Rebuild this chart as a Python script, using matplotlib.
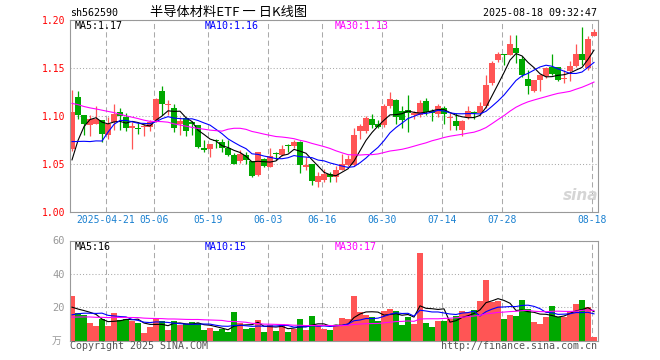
import numpy as np
import pandas as pd
import matplotlib
matplotlib.use("Agg")
import matplotlib.pyplot as plt

plt.rcParams["font.family"] = ["DejaVu Sans Mono", "Noto Sans CJK SC"]

symbol = "sh562590"
title = "半导体材料ETF 一 日K线图"
stamp = "2025-08-18 09:32:47"

# daily candles, 2025-04-11 .. 2025-08-18
opens = [1.066, 1.120, 1.101, 1.091, 1.092, 1.096, 1.080, 1.094, 1.104, 1.099,
         1.088, 1.087, 1.089, 1.089, 1.096, 1.126, 1.111, 1.108, 1.092, 1.098,
         1.094, 1.091, 1.067, 1.066, 1.075, 1.073, 1.067, 1.059, 1.053, 1.059,
         1.053, 1.039, 1.055, 1.047, 1.061, 1.059, 1.070, 1.069, 1.073, 1.047,
         1.050, 1.031, 1.033, 1.040, 1.036, 1.044, 1.049, 1.049, 1.084, 1.084,
         1.097, 1.092, 1.091, 1.110, 1.117, 1.105, 1.106, 1.101, 1.101, 1.116,
         1.105, 1.102, 1.108, 1.098, 1.095, 1.085, 1.099, 1.104, 1.103, 1.110,
         1.134, 1.158, 1.165, 1.164, 1.171, 1.159, 1.139, 1.126, 1.137, 1.142,
         1.151, 1.151, 1.139, 1.147, 1.152, 1.165, 1.150, 1.183]
highs = [1.127, 1.126, 1.101, 1.101, 1.110, 1.096, 1.099, 1.113, 1.108, 1.103,
         1.094, 1.093, 1.092, 1.096, 1.119, 1.131, 1.117, 1.112, 1.099, 1.099,
         1.095, 1.091, 1.075, 1.071, 1.076, 1.076, 1.075, 1.061, 1.065, 1.063,
         1.053, 1.063, 1.056, 1.067, 1.063, 1.070, 1.071, 1.075, 1.074, 1.057,
         1.050, 1.042, 1.045, 1.042, 1.048, 1.060, 1.059, 1.087, 1.092, 1.100,
         1.102, 1.096, 1.112, 1.125, 1.118, 1.110, 1.122, 1.105, 1.117, 1.119,
         1.107, 1.112, 1.110, 1.103, 1.103, 1.096, 1.110, 1.105, 1.115, 1.143,
         1.157, 1.167, 1.165, 1.184, 1.184, 1.162, 1.148, 1.138, 1.144, 1.151,
         1.165, 1.151, 1.148, 1.157, 1.175, 1.193, 1.183, 1.191]
lows = [1.064, 1.097, 1.080, 1.079, 1.092, 1.073, 1.076, 1.085, 1.085, 1.084,
        1.066, 1.081, 1.079, 1.084, 1.094, 1.101, 1.101, 1.083, 1.080, 1.079,
        1.080, 1.067, 1.063, 1.057, 1.067, 1.063, 1.058, 1.050, 1.051, 1.050,
        1.036, 1.038, 1.047, 1.047, 1.054, 1.058, 1.063, 1.067, 1.041, 1.044,
        1.028, 1.026, 1.031, 1.031, 1.031, 1.044, 1.048, 1.048, 1.076, 1.082,
        1.087, 1.087, 1.089, 1.108, 1.092, 1.087, 1.083, 1.097, 1.099, 1.101,
        1.095, 1.099, 1.092, 1.085, 1.085, 1.079, 1.097, 1.097, 1.101, 1.108,
        1.132, 1.156, 1.153, 1.164, 1.155, 1.141, 1.123, 1.125, 1.126, 1.140,
        1.143, 1.136, 1.134, 1.136, 1.151, 1.153, 1.148, 1.183]
closes = [1.104, 1.101, 1.092, 1.097, 1.097, 1.081, 1.092, 1.102, 1.100, 1.088,
          1.090, 1.086, 1.090, 1.094, 1.118, 1.112, 1.113, 1.087, 1.095, 1.084,
          1.092, 1.068, 1.065, 1.071, 1.074, 1.067, 1.059, 1.050, 1.060, 1.054,
          1.038, 1.062, 1.048, 1.058, 1.060, 1.066, 1.069, 1.073, 1.049, 1.049,
          1.032, 1.037, 1.040, 1.036, 1.044, 1.050, 1.055, 1.080, 1.090, 1.098,
          1.091, 1.089, 1.110, 1.118, 1.099, 1.096, 1.103, 1.103, 1.114, 1.104,
          1.103, 1.110, 1.102, 1.099, 1.090, 1.095, 1.105, 1.103, 1.110, 1.132,
          1.155, 1.165, 1.164, 1.175, 1.166, 1.143, 1.131, 1.137, 1.143, 1.150,
          1.144, 1.138, 1.140, 1.152, 1.165, 1.158, 1.180, 1.188]
volumes = [27, 16.4, 15.4, 10.8, 8.8, 12.8, 8.8, 16.4, 12.4, 12.8,
           12, 10.4, 4.8, 8.4, 12.8, 12, 6.4, 12, 9.4, 10,
           11.2, 10.4, 6.4, 7.8, 5.8, 6.8, 5.4, 17.2, 10.4, 7,
           7.6, 12.4, 5.2, 9.4, 5.8, 9.8, 5.2, 7.2, 12.8, 6.4,
           14.8, 8.8, 7, 6.4, 9.4, 13.4, 12.8, 26.8, 17.2, 15.4,
           14, 11.8, 17.8, 19, 17.8, 9.4, 14, 10, 52.8, 10.4,
           8.2, 11.8, 11.8, 12.8, 14.8, 17.8, 17.2, 18.4, 23.8, 36.4,
           23.2, 23.8, 13, 15.4, 14.8, 24.4, 18.8, 11.2, 10, 14.2,
           20.8, 14.2, 14.2, 17.8, 22, 24.4, 20.2, 2.2]

# estimated sessions before the window, only used so the averages start where the chart's do
prior_closes = [1.14, 1.15, 1.14, 1.13, 1.12, 1.13, 1.14, 1.15, 1.14, 1.13,
                1.13, 1.14, 1.13, 1.12, 1.12, 1.13, 1.14, 1.13, 1.12, 1.13,
                1.10, 1.09, 1.10, 1.09, 1.082, 1.00, 1.02, 1.06, 1.0875]
prior_volumes = [14, 13, 12, 15, 13, 14, 12, 13, 14, 13,
                 12, 14, 13, 15, 14, 13, 12, 13, 14, 13,
                 10, 12, 11, 10, 11, 22, 20, 16, 15]

date_ticks = {6: "2025-04-21", 14: "05-06", 23: "05-19", 33: "06-03", 42: "06-16",
              52: "06-30", 62: "07-14", 72: "07-28", 87: "08-18"}
price_ticks = [1.00, 1.05, 1.10, 1.15, 1.20]
vol_ticks = [20, 40, 60]
ma_periods = [5, 10, 30]
ma_labels = ["MA5:1.17", "MA10:1.16", "MA30:1.13"]
vol_ma_labels = ["MA5:16", "MA10:15", "MA30:17"]

RED = "#ff5555"
GREEN = "#00a800"
MA_COLORS = ["black", "#0000ff", "#ff00ff"]
FRAME = "#999999"
GRID = "#aaaaaa"
DATE_BLUE = "#1a80d0"

W, H = 660, 360


def moving_avg(prior, values, n):
    s = pd.Series(list(prior) + list(values), dtype=float)
    return s.rolling(n).mean().iloc[len(prior):].to_numpy()


fig = plt.figure(figsize=(W / 100, H / 100), dpi=100)


def px_axes(x0, y0, x1, y1):
    return fig.add_axes([x0 / W, 1 - y1 / H, (x1 - x0) / W, (y1 - y0) / H])


def px_text(x, y, s, **kw):
    fig.text(x / W, 1 - y / H, s, **kw)


o = np.array(opens)
h = np.array(highs)
l = np.array(lows)
c = np.array(closes)
v = np.array(volumes)
n = len(c)
x = np.arange(n)
colors = np.where(c >= o, RED, GREEN)

grid_x = [i - 1 / 3 for i in date_ticks]

ax = px_axes(70, 20, 598, 212)
axv = px_axes(70, 240.5, 598, 340.5)

for a in (ax, axv):
    a.set_xlim(-1 / 3, n - 1 / 3)
    a.set_axisbelow(True)
    for sp in a.spines.values():
        sp.set_color(FRAME)
        sp.set_linewidth(0.8)
    a.set_xticks(grid_x)
    a.grid(axis="x", color=GRID, lw=0.75, linestyle=(0, (5, 3)))
    a.grid(axis="y", color=GRID, lw=0.75, linestyle=(0, (1, 2)))
    a.tick_params(length=0)

# price panel
ax.vlines(x, l, h, colors=colors, lw=0.9)
body = np.maximum(np.abs(c - o), 0.0011)
ax.bar(x, body, bottom=np.minimum(o, c), width=0.86, color=colors, lw=0)
for p, col in zip(ma_periods, MA_COLORS):
    ax.plot(x, moving_avg(prior_closes, c, p), color=col, lw=0.8)
ax.set_ylim(price_ticks[0], price_ticks[-1])
ax.set_yticks(price_ticks)
ax.set_yticklabels([f"{t:.2f}" for t in price_ticks], color="red", fontsize=7)
ax.set_xticklabels(list(date_ticks.values()), color=DATE_BLUE, fontsize=7)
ax.tick_params(axis="y", pad=3.5)
ax.tick_params(axis="x", pad=2)

# volume panel
axv.bar(x, v, width=0.86, color=colors, lw=0)
for p, col in zip(ma_periods, MA_COLORS):
    axv.plot(x, moving_avg(prior_volumes, v, p), color=col, lw=0.8)
axv.set_ylim(0, 60)
axv.set_yticks(vol_ticks)
axv.set_yticklabels([str(t) for t in vol_ticks], color=FRAME, fontsize=7.5)
axv.set_xticklabels([])
axv.tick_params(axis="y", pad=3.5)

# header and labels
px_text(70, 12.5, symbol, fontsize=7.2, va="center")
px_text(150, 12, title, fontsize=9.5, va="center",
        family=["Noto Sans CJK SC", "DejaVu Sans"])
px_text(597, 13, stamp, fontsize=7.2, va="center", ha="right")
for xpos, lab, col in zip([75, 205, 335], ma_labels, MA_COLORS):
    px_text(xpos, 26, lab, fontsize=7.2, va="center", color=col)
for xpos, lab, col in zip([75, 205, 335], vol_ma_labels, MA_COLORS):
    px_text(xpos, 246.5, lab, fontsize=7.2, va="center", color=col)
px_text(57, 341, "万", fontsize=7, va="center", ha="center", color=FRAME,
        family=["Noto Sans CJK SC", "DejaVu Sans"])
px_text(70, 346, "Copyright 2025 SINA.COM", fontsize=7.2, va="center", color="#555555")
px_text(597, 346, "http://finance.sina.com.cn", fontsize=7.2, va="center", ha="right",
        color="#555555")
px_text(581, 195, "sina", fontsize=11, va="center", ha="center", color="#d5d5d5",
        style="italic", weight="bold", family="DejaVu Sans")

fig.savefig("out.png", dpi=100, facecolor="white")
